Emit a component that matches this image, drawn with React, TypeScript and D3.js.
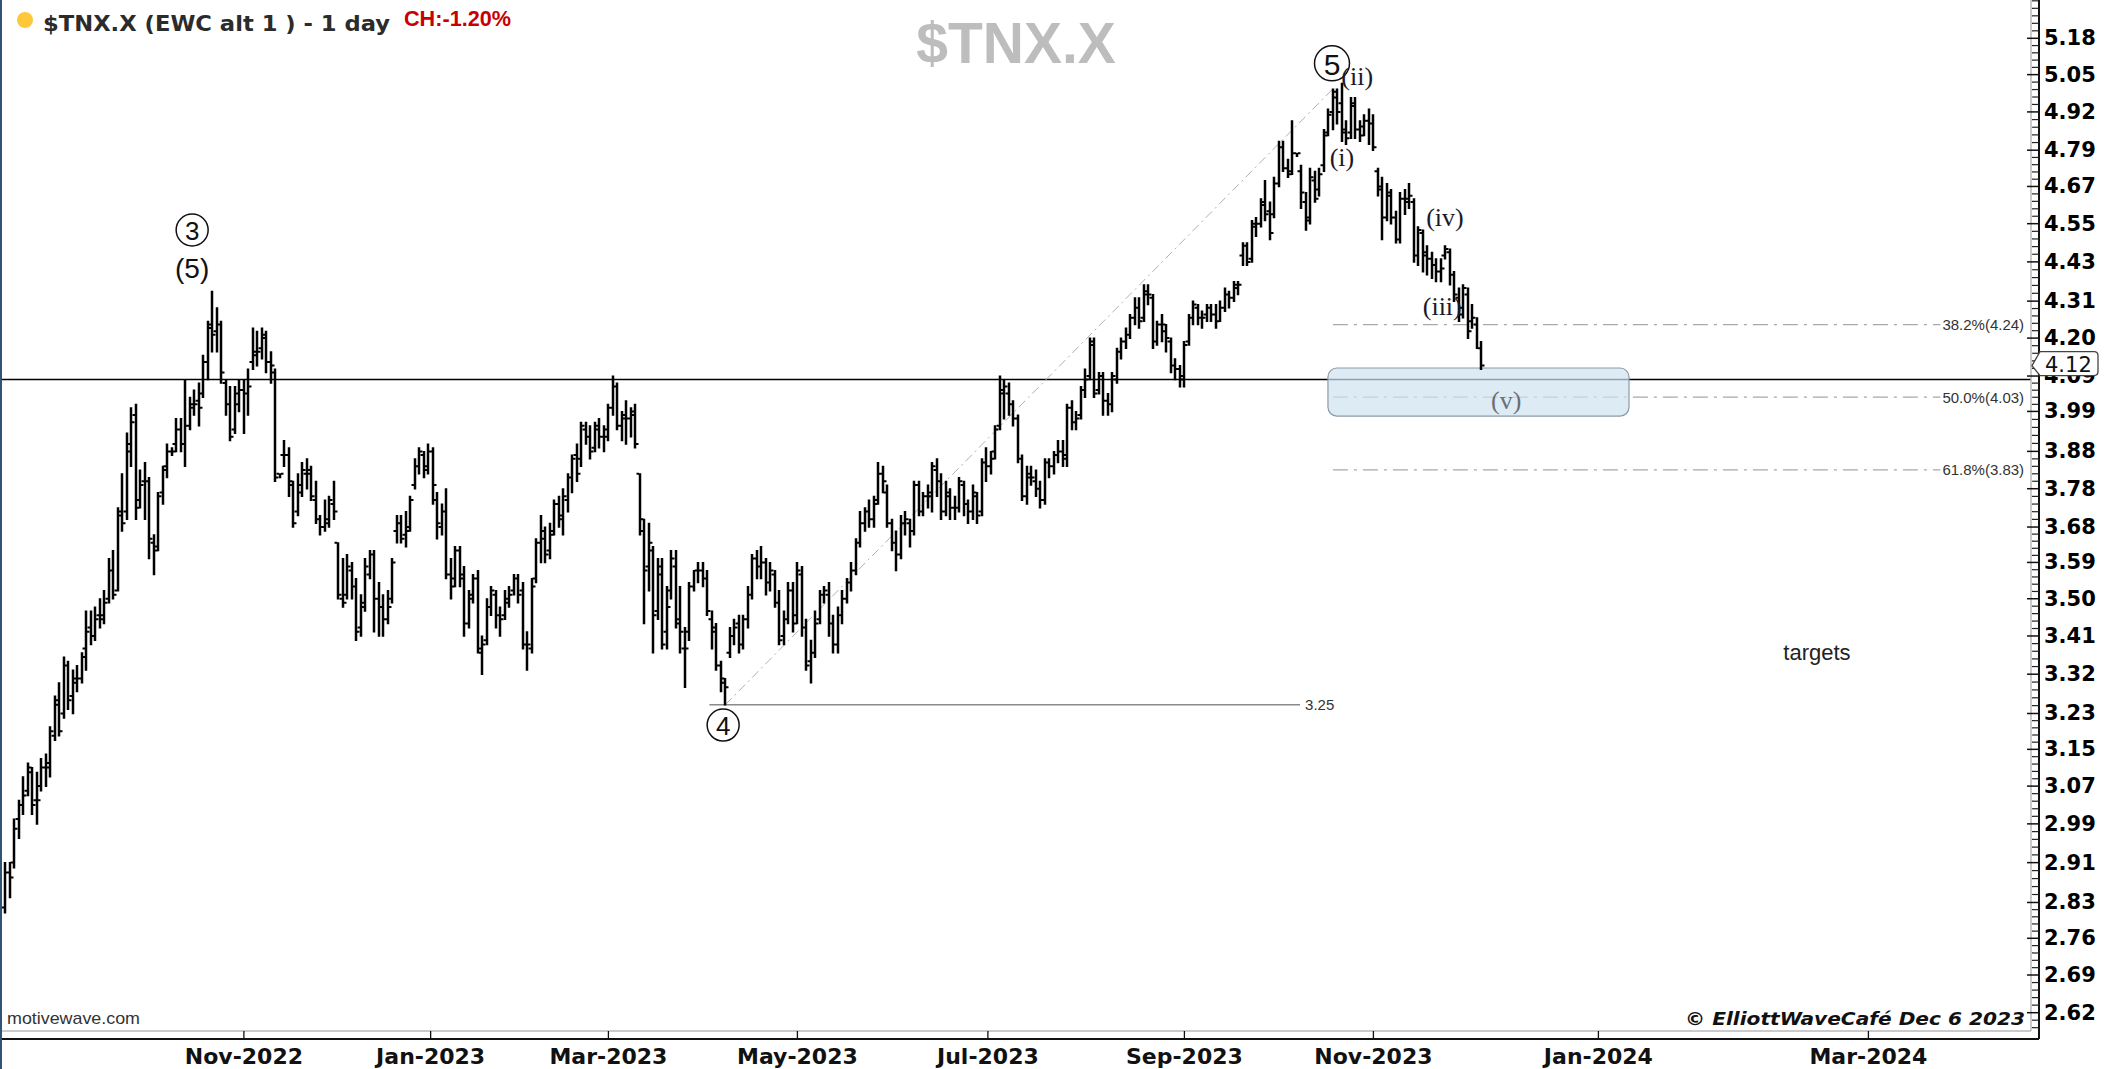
import React from 'react';
import * as d3 from 'd3';

type Bar = [number, number, number, number]; // open, high, low, close

const startDate = '2022-08-17';
const holidays = ['2022-09-05', '2022-11-24', '2022-12-26', '2023-01-02', '2023-01-16', '2023-02-20', '2023-04-07', '2023-05-29', '2023-06-19', '2023-07-04', '2023-09-04', '2023-11-23'];

const aug2022: Bar[] = [
  [2.82, 2.91, 2.81, 2.89], [2.89, 2.91, 2.84, 2.88], [2.91, 3.00, 2.90, 2.98], [3.00, 3.04, 2.96, 3.03],
  [3.03, 3.09, 3.01, 3.05], [3.06, 3.12, 3.05, 3.11], [3.10, 3.11, 3.01, 3.03], [3.04, 3.10, 2.99, 3.04],
  [3.07, 3.13, 3.06, 3.11], [3.11, 3.14, 3.07, 3.11], [3.12, 3.20, 3.09, 3.19],
];
const sep2022: Bar[] = [
  [3.18, 3.27, 3.17, 3.26], [3.25, 3.30, 3.18, 3.19], [3.23, 3.36, 3.22, 3.34], [3.34, 3.35, 3.24, 3.26],
  [3.27, 3.33, 3.23, 3.31], [3.30, 3.34, 3.28, 3.31], [3.31, 3.37, 3.30, 3.36], [3.38, 3.47, 3.33, 3.42],
  [3.43, 3.47, 3.39, 3.41], [3.41, 3.48, 3.40, 3.45], [3.46, 3.50, 3.43, 3.45], [3.46, 3.52, 3.44, 3.49],
  [3.50, 3.60, 3.49, 3.57], [3.57, 3.62, 3.50, 3.51], [3.52, 3.73, 3.52, 3.71], [3.72, 3.82, 3.67, 3.69],
  [3.72, 3.93, 3.70, 3.88], [3.90, 4.00, 3.84, 3.96], [3.98, 4.01, 3.70, 3.73], [3.75, 3.83, 3.73, 3.79],
  [3.80, 3.85, 3.70, 3.80],
];
const oct2022: Bar[] = [
  [3.80, 3.81, 3.60, 3.65], [3.64, 3.66, 3.56, 3.62], [3.63, 3.77, 3.62, 3.76], [3.77, 3.84, 3.74, 3.83],
  [3.84, 3.90, 3.81, 3.88], [3.88, 3.89, 3.87, 3.88], [3.90, 3.97, 3.88, 3.94], [3.94, 3.97, 3.88, 3.90],
  [3.90, 4.08, 3.84, 3.95], [3.95, 4.03, 3.94, 4.01], [4.00, 4.05, 3.98, 4.01], [4.02, 4.07, 3.95, 4.00],
  [4.04, 4.15, 4.03, 4.13], [4.13, 4.25, 4.08, 4.23], [4.24, 4.34, 4.16, 4.21], [4.22, 4.29, 4.16, 4.24],
  [4.24, 4.25, 4.07, 4.10], [4.07, 4.08, 3.98, 4.01], [4.01, 4.06, 3.91, 3.92], [3.94, 4.06, 3.93, 4.01],
  [4.04, 4.08, 3.99, 4.05],
];
const nov2022: Bar[] = [
  [4.05, 4.08, 3.93, 4.04], [4.04, 4.11, 3.98, 4.06], [4.13, 4.23, 4.11, 4.15], [4.16, 4.22, 4.12, 4.16],
  [4.17, 4.23, 4.14, 4.21], [4.20, 4.22, 4.10, 4.13], [4.13, 4.16, 4.07, 4.12], [4.10, 4.11, 3.80, 3.81],
  [3.82, 3.82, 3.81, 3.82], [3.87, 3.91, 3.84, 3.87], [3.87, 3.89, 3.76, 3.80], [3.79, 3.80, 3.68, 3.69],
  [3.72, 3.82, 3.71, 3.77], [3.79, 3.85, 3.76, 3.83], [3.82, 3.86, 3.78, 3.83], [3.82, 3.84, 3.75, 3.76],
  [3.75, 3.80, 3.69, 3.70], [3.70, 3.71, 3.66, 3.68], [3.68, 3.75, 3.67, 3.69], [3.70, 3.76, 3.68, 3.75],
  [3.74, 3.80, 3.70, 3.72],
];
const dec2022: Bar[] = [
  [3.64, 3.64, 3.50, 3.51], [3.50, 3.60, 3.48, 3.49], [3.51, 3.61, 3.50, 3.58], [3.57, 3.59, 3.50, 3.53],
  [3.53, 3.55, 3.40, 3.42], [3.43, 3.51, 3.41, 3.49], [3.48, 3.60, 3.47, 3.58], [3.56, 3.62, 3.55, 3.61],
  [3.61, 3.62, 3.42, 3.50], [3.50, 3.54, 3.41, 3.48], [3.48, 3.51, 3.41, 3.45], [3.45, 3.52, 3.44, 3.48],
  [3.50, 3.60, 3.49, 3.59], [3.67, 3.71, 3.64, 3.69], [3.69, 3.71, 3.64, 3.65], [3.66, 3.72, 3.63, 3.67],
  [3.68, 3.76, 3.67, 3.75], [3.79, 3.86, 3.78, 3.84], [3.84, 3.89, 3.82, 3.88], [3.87, 3.88, 3.81, 3.83],
  [3.84, 3.90, 3.82, 3.88],
];
const jan2023: Bar[] = [
  [3.88, 3.89, 3.74, 3.79], [3.75, 3.77, 3.65, 3.69], [3.68, 3.74, 3.66, 3.72], [3.72, 3.78, 3.55, 3.56],
  [3.56, 3.60, 3.50, 3.53], [3.55, 3.63, 3.53, 3.62], [3.62, 3.63, 3.53, 3.55], [3.56, 3.58, 3.41, 3.44],
  [3.44, 3.52, 3.43, 3.50], [3.51, 3.56, 3.49, 3.55], [3.55, 3.57, 3.37, 3.37], [3.38, 3.41, 3.32, 3.39],
  [3.40, 3.50, 3.39, 3.48], [3.48, 3.53, 3.46, 3.52], [3.51, 3.52, 3.43, 3.46], [3.46, 3.48, 3.41, 3.45],
  [3.46, 3.52, 3.45, 3.49], [3.50, 3.53, 3.48, 3.51], [3.52, 3.56, 3.51, 3.55], [3.55, 3.56, 3.49, 3.51],
];
const feb2023: Bar[] = [
  [3.52, 3.54, 3.38, 3.39], [3.39, 3.42, 3.33, 3.39], [3.38, 3.55, 3.37, 3.53], [3.55, 3.65, 3.54, 3.64],
  [3.64, 3.71, 3.59, 3.67], [3.65, 3.68, 3.59, 3.61], [3.62, 3.69, 3.60, 3.66], [3.67, 3.75, 3.66, 3.74],
  [3.74, 3.76, 3.68, 3.70], [3.71, 3.78, 3.66, 3.76], [3.75, 3.82, 3.72, 3.81], [3.81, 3.87, 3.77, 3.86],
  [3.87, 3.90, 3.80, 3.82], [3.86, 3.96, 3.84, 3.95], [3.94, 3.96, 3.90, 3.92], [3.92, 3.95, 3.86, 3.88],
  [3.89, 3.96, 3.88, 3.95], [3.94, 3.97, 3.89, 3.92], [3.92, 3.95, 3.88, 3.92],
];
const mar2023: Bar[] = [
  [3.94, 4.01, 3.91, 4.00], [4.00, 4.09, 3.98, 4.06], [4.06, 4.07, 3.94, 3.95], [3.95, 3.99, 3.91, 3.98],
  [3.97, 4.02, 3.90, 3.97], [3.97, 4.00, 3.92, 3.99], [3.98, 4.01, 3.89, 3.90], [3.82, 3.82, 3.66, 3.70],
  [3.67, 3.70, 3.44, 3.57], [3.58, 3.69, 3.52, 3.64], [3.62, 3.63, 3.37, 3.46], [3.47, 3.60, 3.45, 3.58],
  [3.56, 3.60, 3.38, 3.39], [3.42, 3.53, 3.38, 3.48], [3.52, 3.62, 3.50, 3.60], [3.58, 3.62, 3.43, 3.44],
  [3.45, 3.53, 3.37, 3.42], [3.38, 3.43, 3.29, 3.38], [3.42, 3.54, 3.40, 3.53], [3.53, 3.57, 3.52, 3.57],
  [3.57, 3.59, 3.54, 3.57], [3.57, 3.59, 3.53, 3.55], [3.55, 3.57, 3.46, 3.47],
];
const apr2023: Bar[] = [
  [3.45, 3.47, 3.38, 3.43], [3.42, 3.44, 3.33, 3.34], [3.34, 3.35, 3.28, 3.31], [3.30, 3.31, 3.25, 3.29],
  [3.37, 3.43, 3.36, 3.41], [3.41, 3.45, 3.39, 3.43], [3.44, 3.46, 3.37, 3.39], [3.39, 3.46, 3.38, 3.45],
  [3.45, 3.53, 3.43, 3.51], [3.51, 3.61, 3.50, 3.60], [3.60, 3.62, 3.55, 3.58], [3.58, 3.63, 3.55, 3.59],
  [3.59, 3.60, 3.51, 3.54], [3.54, 3.59, 3.52, 3.57], [3.56, 3.57, 3.48, 3.49], [3.49, 3.52, 3.39, 3.40],
  [3.41, 3.47, 3.39, 3.45], [3.45, 3.54, 3.44, 3.52], [3.52, 3.54, 3.42, 3.44],
];
const may2023: Bar[] = [
  [3.46, 3.59, 3.44, 3.57], [3.56, 3.58, 3.41, 3.43], [3.43, 3.45, 3.33, 3.34], [3.35, 3.40, 3.30, 3.37],
  [3.37, 3.47, 3.36, 3.44], [3.45, 3.52, 3.44, 3.51], [3.51, 3.53, 3.49, 3.52], [3.51, 3.54, 3.41, 3.44],
  [3.44, 3.46, 3.37, 3.39], [3.39, 3.48, 3.37, 3.46], [3.46, 3.52, 3.44, 3.50], [3.50, 3.55, 3.49, 3.54],
  [3.54, 3.59, 3.52, 3.57], [3.57, 3.65, 3.56, 3.64], [3.64, 3.72, 3.63, 3.69], [3.69, 3.73, 3.67, 3.72],
  [3.72, 3.75, 3.68, 3.70], [3.70, 3.76, 3.68, 3.74], [3.75, 3.85, 3.74, 3.82], [3.82, 3.84, 3.77, 3.80],
  [3.77, 3.79, 3.68, 3.69], [3.69, 3.70, 3.62, 3.64],
];
const jun2023: Bar[] = [
  [3.64, 3.67, 3.57, 3.61], [3.61, 3.71, 3.60, 3.69], [3.69, 3.72, 3.66, 3.70], [3.69, 3.70, 3.63, 3.67],
  [3.67, 3.80, 3.66, 3.79], [3.79, 3.80, 3.71, 3.72], [3.72, 3.77, 3.71, 3.76], [3.76, 3.79, 3.73, 3.77],
  [3.76, 3.85, 3.72, 3.84], [3.83, 3.86, 3.76, 3.80], [3.80, 3.82, 3.70, 3.72], [3.72, 3.80, 3.71, 3.77],
  [3.76, 3.78, 3.70, 3.73], [3.73, 3.76, 3.70, 3.73], [3.73, 3.81, 3.72, 3.80], [3.79, 3.80, 3.71, 3.74],
  [3.74, 3.75, 3.69, 3.72], [3.72, 3.79, 3.70, 3.77], [3.76, 3.77, 3.69, 3.71], [3.72, 3.86, 3.71, 3.85],
  [3.85, 3.89, 3.80, 3.84],
];
const jul2023: Bar[] = [
  [3.84, 3.88, 3.82, 3.86], [3.88, 3.95, 3.86, 3.94], [3.95, 4.09, 3.94, 4.05], [4.04, 4.08, 3.97, 4.06],
  [4.04, 4.07, 3.98, 4.01], [4.01, 4.02, 3.95, 3.97], [3.97, 3.98, 3.85, 3.86], [3.86, 3.87, 3.75, 3.76],
  [3.76, 3.84, 3.74, 3.82], [3.81, 3.84, 3.79, 3.81], [3.80, 3.83, 3.76, 3.78], [3.78, 3.80, 3.73, 3.75],
  [3.75, 3.86, 3.74, 3.85], [3.85, 3.86, 3.81, 3.84], [3.84, 3.88, 3.82, 3.87], [3.87, 3.91, 3.85, 3.88],
  [3.88, 3.91, 3.84, 3.87], [3.86, 4.01, 3.84, 4.00], [4.00, 4.02, 3.94, 3.96], [3.96, 3.99, 3.94, 3.97],
];
const aug2023: Bar[] = [
  [3.98, 4.06, 3.97, 4.05], [4.05, 4.11, 4.03, 4.08], [4.09, 4.20, 4.08, 4.19], [4.18, 4.20, 4.03, 4.04],
  [4.05, 4.10, 4.04, 4.09], [4.09, 4.10, 3.98, 4.02], [4.02, 4.04, 3.98, 4.01], [4.01, 4.10, 3.99, 4.09],
  [4.08, 4.17, 4.07, 4.16], [4.16, 4.20, 4.14, 4.19], [4.19, 4.23, 4.17, 4.21], [4.21, 4.27, 4.20, 4.26],
  [4.26, 4.32, 4.24, 4.29], [4.29, 4.32, 4.23, 4.25], [4.26, 4.36, 4.25, 4.34], [4.33, 4.36, 4.30, 4.33],
  [4.32, 4.33, 4.17, 4.19], [4.19, 4.25, 4.18, 4.24], [4.24, 4.27, 4.19, 4.24], [4.22, 4.24, 4.16, 4.20],
  [4.19, 4.20, 4.10, 4.12], [4.12, 4.14, 4.08, 4.11], [4.11, 4.12, 4.06, 4.09],
];
const sep2023: Bar[] = [
  [4.08, 4.19, 4.06, 4.18], [4.19, 4.27, 4.18, 4.26], [4.26, 4.31, 4.24, 4.30], [4.29, 4.30, 4.24, 4.26],
  [4.26, 4.28, 4.23, 4.26], [4.27, 4.30, 4.25, 4.29], [4.29, 4.30, 4.25, 4.27], [4.27, 4.30, 4.23, 4.25],
  [4.25, 4.31, 4.25, 4.29], [4.29, 4.35, 4.28, 4.33], [4.33, 4.34, 4.29, 4.32], [4.32, 4.37, 4.31, 4.36],
  [4.35, 4.37, 4.33, 4.36], [4.45, 4.49, 4.42, 4.48], [4.48, 4.49, 4.42, 4.43], [4.44, 4.56, 4.43, 4.54],
  [4.55, 4.57, 4.51, 4.55], [4.55, 4.63, 4.54, 4.61], [4.62, 4.69, 4.56, 4.58], [4.59, 4.62, 4.50, 4.52],
];
const oct2023: Bar[] = [
  [4.58, 4.70, 4.57, 4.68], [4.68, 4.82, 4.67, 4.80], [4.80, 4.82, 4.72, 4.73], [4.73, 4.76, 4.70, 4.71],
  [4.72, 4.89, 4.71, 4.78], [4.78, 4.78, 4.77, 4.78], [4.72, 4.74, 4.60, 4.65], [4.62, 4.65, 4.53, 4.56],
  [4.57, 4.73, 4.55, 4.70], [4.69, 4.72, 4.62, 4.63], [4.66, 4.73, 4.64, 4.71], [4.74, 4.86, 4.72, 4.84],
  [4.85, 4.93, 4.84, 4.91], [4.92, 5.00, 4.86, 4.99], [4.97, 5.00, 4.88, 4.92], [4.95, 5.02, 4.82, 4.85],
  [4.86, 4.89, 4.81, 4.83], [4.85, 4.97, 4.83, 4.95], [4.94, 4.97, 4.83, 4.86], [4.86, 4.89, 4.82, 4.84],
  [4.87, 4.91, 4.84, 4.89], [4.89, 4.93, 4.81, 4.88],
];
const nov2023: Bar[] = [
  [4.88, 4.91, 4.79, 4.80], [4.72, 4.73, 4.64, 4.67], [4.66, 4.70, 4.50, 4.57], [4.57, 4.68, 4.56, 4.65],
  [4.64, 4.66, 4.55, 4.57], [4.57, 4.59, 4.49, 4.50], [4.50, 4.65, 4.49, 4.63], [4.63, 4.66, 4.58, 4.63],
  [4.62, 4.68, 4.60, 4.64], [4.62, 4.63, 4.43, 4.45], [4.45, 4.54, 4.42, 4.53], [4.52, 4.53, 4.40, 4.45],
  [4.46, 4.48, 4.39, 4.44], [4.44, 4.46, 4.38, 4.42], [4.42, 4.44, 4.37, 4.40], [4.40, 4.44, 4.37, 4.41],
  [4.45, 4.48, 4.44, 4.47], [4.46, 4.47, 4.36, 4.39], [4.39, 4.40, 4.31, 4.33], [4.32, 4.35, 4.25, 4.27],
  [4.29, 4.36, 4.26, 4.35],
];
const dec2023: Bar[] = [
  [4.33, 4.35, 4.20, 4.22], [4.25, 4.30, 4.23, 4.26], [4.24, 4.26, 4.17, 4.17], [4.17, 4.19, 4.11, 4.12],
];

const bars: Bar[] = [
  ...aug2022, ...sep2022, ...oct2022, ...nov2022, ...dec2022, ...jan2023, ...feb2023, ...mar2023,
  ...apr2023, ...may2023, ...jun2023, ...jul2023, ...aug2023, ...sep2023, ...oct2023, ...nov2023, ...dec2023,
];

const yTickLabels = ['5.18', '5.05', '4.92', '4.79', '4.67', '4.55', '4.43', '4.31', '4.20', '4.09', '3.99', '3.88', '3.78', '3.68', '3.59', '3.50', '3.41', '3.32', '3.23', '3.15', '3.07', '2.99', '2.91', '2.83', '2.76', '2.69', '2.62'];
const monthLabels = ['Nov-2022', 'Jan-2023', 'Mar-2023', 'May-2023', 'Jul-2023', 'Sep-2023', 'Nov-2023', 'Jan-2024', 'Mar-2024'];
const monthDates = ['2022-11-01', '2023-01-01', '2023-03-01', '2023-05-01', '2023-07-01', '2023-09-01', '2023-11-01', '2024-01-01', '2024-03-01'];

const resistanceLevel = 4.08;
const waveLow = { idx: 160, price: 3.25 };
const waveHigh = { idx: 295, price: 5.0 };
const lowLineEndIdx = 287.7;
const fibLabels = ['38.2%(4.24)', '50.0%(4.03)', '61.8%(3.83)'];
const fibValues = [4.24, 4.03, 3.83];
const fibEndIdx = 430;
const targetZone = { fromIdx: 293.9, toIdx: 360.8, low: 3.977, high: 4.113 };
const lastPrice = 4.12;
const circledWaves = [
  { text: '3', idx: 41.5, price: 4.53 },
  { text: '4', idx: 159.5, price: 3.204 },
  { text: '5', idx: 294.8, price: 5.09 },
];
const waveTexts = [
  { text: '(5)', idx: 41.5, price: 4.41, serif: false, color: '#111' },
  { text: '(i)', idx: 297.0, price: 4.764, serif: true, color: '#1a1a2a' },
  { text: '(ii)', idx: 300.4, price: 5.043, serif: true, color: '#1a1a2a' },
  { text: '(iii)', idx: 319.3, price: 4.295, serif: true, color: '#1a1a2a' },
  { text: '(iv)', idx: 319.9, price: 4.571, serif: true, color: '#1a1a2a' },
  { text: '(v)', idx: 333.5, price: 4.022, serif: true, color: '#6a6f75' },
];

const DAY = 86400000;

function buildDates(n: number): number[] {
  const hol = new Set(holidays);
  const out: number[] = [];
  let t = Date.parse(startDate + 'T00:00:00Z');
  while (out.length < n) {
    const d = new Date(t);
    const wd = d.getUTCDay();
    const iso = d.toISOString().slice(0, 10);
    if (wd !== 0 && wd !== 6 && !hol.has(iso)) out.push(t);
    t += DAY;
  }
  return out;
}

export default function App() {
  const W = 2104;
  const H = 1069;
  const plotRight = 2031;
  const axisRight = 2039;
  const plotBottom = 1031;
  const axisBottom = 1039;

  const dates = buildDates(bars.length);
  const last = bars.length - 1;
  const x = d3.scaleLinear().domain([0, last]).range([5.4, 5.4 + 4.5 * last]);
  const y = d3.scaleLog().domain([2.62, 5.18]).range([1012.7, 38.3]);

  const slotOf = (iso: string) => {
    const t = Date.parse(iso + 'T00:00:00Z');
    if (t >= dates[last]) return last + (t - dates[last]) / DAY;
    for (let i = 0; i < last; i++) {
      if (dates[i] <= t && t < dates[i + 1]) return i + (t - dates[i]) / (dates[i + 1] - dates[i]);
    }
    return 0;
  };

  let barPath = '';
  bars.forEach((b, i) => {
    const cx = Math.round(x(i));
    const [, h, l] = b;
    barPath += `M${cx},${(y(h) - 0.5).toFixed(1)}V${(y(l) + 0.8).toFixed(1)}`;
  });
  let tickPath = '';
  bars.forEach((b, i) => {
    const cx = Math.round(x(i));
    const [o, , , c] = b;
    tickPath += `M${cx - 1},${y(o).toFixed(1)}H${cx - 3.5}M${cx + 1},${y(c).toFixed(1)}H${cx + 3.5}`;
  });

  const majorYs = yTickLabels.map((t) => y(+t));
  const step = (majorYs[majorYs.length - 1] - majorYs[0]) / (majorYs.length - 1) / 5;
  const minorYs: number[] = [];
  for (let yy = majorYs[0] - step; yy > 0; yy -= step) minorYs.push(yy);
  for (let k = 0; k < majorYs.length - 1; k++) {
    for (let j = 1; j < 5; j++) minorYs.push(majorYs[k] + ((majorYs[k + 1] - majorYs[k]) * j) / 5);
  }
  for (let yy = majorYs[majorYs.length - 1] + step; yy < plotBottom; yy += step) minorYs.push(yy);

  const yLast = y(lastPrice);
  const boxTop = yLast - 14;
  const boxBot = yLast + 10;

  return (
    <svg width={W} height={H} style={{ position: 'fixed', left: 0, top: 0, background: '#fff' }}>
      <rect x={0} y={0} width={W} height={H} fill="#fff" />

      {/* watermark */}
      <text x={1016} y={63} textAnchor="middle" fontFamily="'Liberation Sans', Arial, sans-serif" fontWeight="bold" fontSize={57} fill="#bdbdbd">$TNX.X</text>

      {/* title */}
      <circle cx={25} cy={20} r={8} fill="#ffc83a" />
      <text x={43} y={31} fontFamily="'DejaVu Sans', Verdana, sans-serif" fontWeight="bold" fontSize={21} fill="#2b2b2b" textLength={347} lengthAdjust="spacingAndGlyphs">$TNX.X (EWC alt 1 ) - 1 day</text>
      <text x={404} y={26} fontFamily="'Liberation Sans', Arial, sans-serif" fontWeight="bold" fontSize={22} fill="#c80000" textLength={107} lengthAdjust="spacingAndGlyphs">CH:-1.20%</text>

      {/* resistance line */}
      <line x1={0} x2={plotRight} y1={y(resistanceLevel)} y2={y(resistanceLevel)} stroke="#000" strokeWidth={1.5} />

      {/* fib levels */}
      {fibValues.map((v, k) => (
        <g key={'fib' + k}>
          <line x1={x(waveHigh.idx)} x2={x(fibEndIdx)} y1={y(v)} y2={y(v)} stroke="#a8a8a8" strokeWidth={1.3} strokeDasharray="15,6,3,6" />
          <text x={x(fibEndIdx) + 2} y={y(v)} dominantBaseline="central" fontFamily="'Liberation Sans', Arial, sans-serif" fontSize={15} fill="#333">{fibLabels[k]}</text>
        </g>
      ))}

      {/* target zone */}
      <rect x={x(targetZone.fromIdx)} y={y(targetZone.high)} width={x(targetZone.toIdx) - x(targetZone.fromIdx)} height={y(targetZone.low) - y(targetZone.high)} rx={9} ry={9} fill="#cfe2f0" fillOpacity={0.7} stroke="#8c9aa5" strokeWidth={1.2} />

      {/* wave 4 low line */}
      <line x1={x(waveLow.idx) - 16} x2={x(lowLineEndIdx)} y1={y(waveLow.price)} y2={y(waveLow.price)} stroke="#8a8a8a" strokeWidth={1.5} />
      <text x={x(lowLineEndIdx) + 5} y={y(waveLow.price)} dominantBaseline="central" fontFamily="'Liberation Sans', Arial, sans-serif" fontSize={15} fill="#333">3.25</text>

      {/* channel diagonal */}
      <line x1={x(waveLow.idx)} y1={y(waveLow.price)} x2={x(waveHigh.idx)} y2={y(waveHigh.price)} stroke="#b0b0b0" strokeWidth={1} strokeDasharray="9,4,2,4" />

      {/* bars */}
      <path d={barPath} stroke="#000" strokeWidth={2.5} fill="none" />
      <path d={tickPath} stroke="#000" strokeWidth={2} fill="none" />

      {/* wave labels */}
      {circledWaves.map((w, k) => {
        const r = w.text === '5' ? 17.5 : 16;
        return (
          <g key={'cw' + k}>
            <circle cx={x(w.idx)} cy={y(w.price)} r={r} fill="none" stroke="#111" strokeWidth={1.5} />
            <text x={x(w.idx)} y={y(w.price) + 1} textAnchor="middle" dominantBaseline="central" fontFamily="'Liberation Sans', Arial, sans-serif" fontSize={w.text === '5' ? 30 : 26} fill="#111">{w.text}</text>
          </g>
        );
      })}
      {waveTexts.map((w, k) => (
        <text key={'wt' + k} x={x(w.idx)} y={y(w.price)} textAnchor="middle" dominantBaseline="central" fontFamily={w.serif ? "'Liberation Serif', 'Times New Roman', serif" : "'Liberation Sans', Arial, sans-serif"} fontSize={w.serif ? 26 : 28} fill={w.color}>{w.text}</text>
      ))}

      <text x={1817} y={652} textAnchor="middle" dominantBaseline="central" fontFamily="'Liberation Sans', Arial, sans-serif" fontSize={22} fill="#222">targets</text>

      {/* footer texts */}
      <text x={7} y={1024} fontFamily="'Liberation Sans', Arial, sans-serif" fontSize={17} fill="#333" textLength={133} lengthAdjust="spacingAndGlyphs">motivewave.com</text>
      <text x={2025} y={1025} textAnchor="end" fontFamily="'DejaVu Sans', sans-serif" fontStyle="italic" fontWeight="bold" fontSize={17} fill="#111" textLength={340} lengthAdjust="spacingAndGlyphs">© ElliottWaveCafé Dec 6 2023</text>

      {/* frame */}
      <line x1={0} x2={plotRight} y1={plotBottom} y2={plotBottom} stroke="#b8b8b8" strokeWidth={1.5} />
      <line x1={plotRight} x2={plotRight} y1={0} y2={plotBottom} stroke="#b8b8b8" strokeWidth={1.5} />
      <line x1={0} x2={axisRight} y1={axisBottom} y2={axisBottom} stroke="#111" strokeWidth={2} />
      <line x1={axisRight} x2={axisRight} y1={0} y2={axisBottom} stroke="#111" strokeWidth={2} />

      {/* y axis ticks */}
      {minorYs.map((yy, k) => (
        <line key={'mn' + k} x1={plotRight + 1} x2={axisRight} y1={yy} y2={yy} stroke="#222" strokeWidth={1.2} />
      ))}
      {majorYs.map((yy, k) => (
        <g key={'mj' + k}>
          <line x1={plotRight - 4} x2={axisRight} y1={yy} y2={yy} stroke="#111" strokeWidth={1.5} />
          <text x={2044} y={yy} dominantBaseline="central" fontFamily="'DejaVu Sans', Verdana, sans-serif" fontWeight="bold" fontSize={21} fill="#000">{yTickLabels[k]}</text>
        </g>
      ))}

      {/* last price box */}
      <path d={`M${plotRight + 1},${yLast} L${2040},${boxTop} H${2094} Q${2098},${boxTop} ${2098},${boxTop + 4} V${boxBot - 4} Q${2098},${boxBot} ${2094},${boxBot} H${2040} Z`} fill="#fff" stroke="#444" strokeWidth={1.3} />
      <text x={2045} y={(boxTop + boxBot) / 2 + 1} dominantBaseline="central" fontFamily="'DejaVu Sans', Verdana, sans-serif" fontSize={21} fill="#111">{lastPrice.toFixed(2)}</text>

      {/* x axis ticks & labels */}
      {monthDates.map((m, k) => {
        const xx = x(slotOf(m));
        return (
          <g key={'mt' + k}>
            <line x1={xx} x2={xx} y1={plotBottom} y2={axisBottom} stroke="#111" strokeWidth={1.3} />
            <text x={xx} y={1064} textAnchor="middle" fontFamily="'DejaVu Sans', Verdana, sans-serif" fontWeight="bold" fontSize={22} fill="#111">{monthLabels[k]}</text>
          </g>
        );
      })}

      {/* left edge */}
      <rect x={0} y={0} width={2} height={H} fill="#2f5479" />
    </svg>
  );
}
